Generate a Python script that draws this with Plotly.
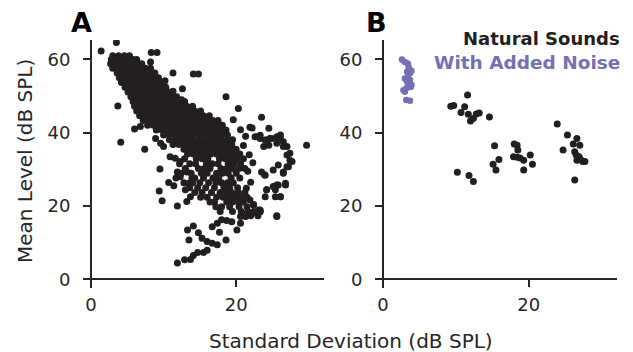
import plotly.graph_objects as go

# ---------------- Data ----------------
# Panel A: natural sounds, dense cloud given as rows: (mean level, [standard deviations])
cloud_rows_a = [
    (61.0, [3.0, 3.8, 4.6, 5.3]),
    (60.0, [2.8, 3.5, 4.2, 5.0, 5.8, 6.3]),
    (58.8, [2.7, 3.3, 4.0, 4.8, 5.6, 6.4, 7.0]),
    (57.6, [3.0, 3.7, 4.4, 5.2, 6.0, 6.8, 7.5, 8.2]),
    (56.3, [3.6, 4.3, 5.1, 5.9, 6.7, 7.4, 8.1, 8.8]),
    (55.0, [3.9, 4.6, 5.4, 6.2, 7.0, 7.8, 8.6, 9.3]),
    (53.7, [4.2, 5.0, 5.8, 6.6, 7.4, 8.2, 9.0, 9.7]),
    (52.4, [4.7, 5.5, 6.3, 7.1, 7.9, 8.7, 9.5, 10.3]),
    (51.1, [5.1, 5.9, 6.7, 7.5, 8.3, 9.1, 9.9, 10.7]),
    (49.8, [5.5, 6.3, 7.1, 7.9, 8.7, 9.5, 10.3, 11.1, 11.8]),
    (48.5, [5.8, 6.6, 7.4, 8.2, 9.0, 9.8, 10.6, 11.4, 12.2, 12.9]),
    (47.2, [6.0, 6.8, 7.6, 8.4, 9.2, 10.0, 10.8, 11.6, 12.4, 13.2, 14.0]),
    (45.9, [6.3, 7.1, 7.9, 8.7, 9.5, 10.3, 11.1, 11.9, 12.7, 13.5, 14.3, 15.1]),
    (44.6, [6.7, 7.5, 8.3, 9.1, 9.9, 10.7, 11.5, 12.3, 13.1, 13.9, 14.7, 15.5, 16.3]),
    (43.3, [7.2, 8.0, 8.8, 9.6, 10.4, 11.2, 12.0, 12.8, 13.6, 14.4, 15.2, 16.0, 16.8, 17.5]),
    (42.0, [7.8, 8.6, 9.4, 10.2, 11.0, 11.8, 12.6, 13.4, 14.2, 15.0, 15.8, 16.6, 17.4, 18.1]),
    (40.7, [9.0, 9.8, 10.6, 11.4, 12.2, 13.0, 13.8, 14.6, 15.4, 16.2, 17.0, 17.8, 18.6]),
    (39.4, [10.0, 10.8, 11.6, 12.4, 13.2, 14.0, 14.8, 15.6, 16.4, 17.2, 18.0, 18.8]),
    (38.1, [10.8, 11.6, 12.4, 13.2, 14.0, 14.8, 15.6, 16.4, 17.2, 18.0, 18.8, 19.5]),
    (36.8, [11.3, 12.1, 13.0, 13.8, 14.6, 15.4, 16.2, 17.0, 17.8, 18.6, 19.4]),
    (35.5, [12.8, 13.6, 14.4, 15.2, 16.0, 16.8, 17.6, 18.4, 19.2, 20.0]),
    (34.2, [13.3, 14.1, 14.9, 15.7, 16.5, 17.3, 18.1, 18.9, 19.7, 20.5]),
    (32.9, [12.9, 14.5, 15.3, 16.1, 17.7, 18.5, 19.3, 20.1, 21.0]),
    (31.5, [12.2, 13.6, 14.4, 15.9, 16.7, 17.5, 18.9, 19.7, 20.6]),
    (30.2, [13.0, 14.8, 15.6, 16.4, 17.9, 18.7, 19.5, 20.4, 21.2]),
    (28.9, [12.4, 13.8, 15.2, 16.0, 17.3, 18.1, 18.9, 20.0]),
    (27.6, [11.7, 14.3, 15.5, 16.8, 17.6, 19.3, 20.5]),
    (26.3, [12.8, 14.0, 15.0, 16.2, 17.2, 18.0, 18.8, 19.6]),
    (25.0, [13.6, 14.7, 15.8, 17.0, 18.3, 19.1, 20.2]),
    (23.7, [14.3, 15.3, 16.6, 17.8, 18.6, 19.4, 20.3, 21.2]),
    (22.4, [15.1, 16.0, 17.3, 18.2, 19.0, 19.8, 20.6, 21.5]),
    (21.1, [16.4, 17.0, 18.7, 19.5, 20.3, 21.0]),
    (19.8, [17.2, 18.0, 19.1, 20.4]),
    (18.5, [17.8, 19.5, 20.7, 21.6, 22.4, 23.3]),
    (17.3, [21.3, 22.0, 23.0]),
]

# Panel A: isolated points (standard deviation, mean level)
sparse_a = [
    (1.4, 62.3), (3.5, 64.6), (8.3, 61.9), (9.1, 61.9), (14.1, 56.0), (14.8, 56.0),
    (11.3, 56.3), (12.6, 52.0), (18.6, 49.8), (20.3, 46.6), (23.5, 44.2), (29.7, 36.6),
    (3.7, 47.3), (4.1, 37.4), (7.4, 35.5), (21.9, 41.5), (24.5, 41.2), (8.2, 59.3),
    (10.2, 54.2), (11.3, 51.3), (12.5, 49.0), (6.0, 41.0), (6.8, 41.7),
    (8.9, 38.4), (9.6, 37.1), (10.0, 36.2), (10.9, 33.4), (11.6, 33.0), (12.3, 32.1),
    (9.5, 30.1), (10.7, 26.4), (11.4, 25.5), (11.9, 29.3), (12.3, 28.0),
    (13.2, 29.3), (13.9, 27.5), (13.5, 26.2), (13.0, 24.4), (13.7, 22.5), (13.2, 21.2),
    (11.9, 20.0), (9.8, 21.4), (9.4, 24.1),
    (11.9, 4.4), (12.9, 5.3), (13.7, 5.4), (14.1, 6.5), (14.7, 7.3),
    (13.3, 13.4), (14.1, 14.5), (13.5, 10.7),
    (14.8, 12.7), (15.3, 11.2), (16.0, 10.3), (16.7, 9.8), (17.4, 9.4),
    (15.5, 7.3), (16.0, 7.9), (17.7, 12.8), (18.6, 10.7),
    (16.7, 14.3), (17.4, 15.3), (18.0, 16.2), (18.7, 16.0), (19.4, 15.7),
    (20.1, 13.4), (20.6, 15.3), (21.3, 17.1), (22.2, 18.0), (23.3, 18.4), (25.6, 17.3),
    (22.6, 38.9), (23.3, 38.4), (24.2, 38.0), (24.9, 38.4), (26.1, 39.4), (26.5, 37.5),
    (25.6, 37.1), (27.0, 36.2), (27.4, 34.4), (27.7, 32.1), (27.0, 30.7), (26.5, 29.3),
    (24.0, 28.4), (23.5, 29.3), (25.6, 25.7), (25.4, 24.4), (26.1, 22.5), (26.8, 26.2),
    (24.2, 24.4), (24.0, 22.5), (23.3, 18.9), (25.6, 17.1),
    (21.9, 21.6), (22.4, 20.3), (21.5, 19.8), (20.6, 17.1), (21.0, 17.5),
    (22.2, 41.3), (22.9, 38.9), (23.3, 39.3), (24.0, 38.0), (24.5, 36.6), (23.8, 36.2),
    (24.7, 38.5), (25.6, 38.9), (26.1, 38.5), (26.5, 36.2), (27.0, 33.9), (27.4, 32.5),
    (27.2, 30.7), (26.5, 28.9), (25.8, 31.2), (25.1, 29.8), (23.9, 28.5), (24.2, 24.4),
    (25.1, 25.3), (25.8, 25.7), (25.4, 22.5), (26.1, 22.5), (26.8, 25.7),
    (23.1, 18.9), (22.4, 20.3), (19.6, 43.5), (20.6, 40.8), (21.3, 39.0), (21.0, 36.5),
    (21.8, 34.0), (22.3, 31.8), (21.6, 29.5), (22.0, 26.5), (21.4, 24.8),
]

# Panel B: natural sounds (standard deviation, mean level)
sd_b = [9.3, 9.7, 11.6, 11.2, 10.7, 11.7, 12.0, 12.4, 12.8, 13.2, 14.6, 10.2, 11.8, 12.4,
        15.3, 15.9, 15.1, 15.5, 18.0, 18.4, 18.5, 17.9, 18.4, 18.8, 19.3, 20.2, 20.5, 19.3,
        23.9, 25.3, 24.7, 26.6, 26.1, 27.0, 26.3, 26.5, 26.9, 27.1, 27.4, 27.7, 26.6, 26.3]
mean_b = [47.2, 47.4, 50.3, 47.1, 45.5, 45.0, 43.2, 43.9, 45.1, 45.4, 44.3, 29.2, 28.3, 26.7,
          36.4, 32.7, 31.4, 29.8, 36.9, 36.6, 35.3, 33.4, 33.3, 33.1, 32.5, 33.9, 31.4, 29.8,
          42.4, 39.4, 35.3, 38.4, 36.9, 36.6, 34.8, 33.9, 33.4, 32.7, 32.1, 32.1, 32.5, 27.1]

# Panel B: with added noise
sd_noise = [2.6, 3.0, 3.4, 3.5, 3.6, 3.9, 3.3, 3.7, 3.4, 3.0, 3.7, 3.3, 3.5, 3.9, 3.8,
            3.2, 2.8, 3.0, 3.2, 3.7]
mean_noise = [60.0, 59.3, 58.9, 58.0, 57.3, 56.9, 56.6, 56.2, 55.3, 54.8, 54.4, 53.9, 53.4,
              53.0, 52.5, 52.1, 51.6, 51.2, 48.9, 48.7]

x_ticks = [0, 20]
y_ticks = [0, 20, 40, 60]
panel_labels = ["A", "B"]
legend_labels = ["Natural Sounds", "With Added Noise"]
x_title = "Standard Deviation (dB SPL)"
y_title = "Mean Level (dB SPL)"

# ---------------- Build ----------------
sd_a, mean_a = [], []
for yv, xs in cloud_rows_a:
    for xv in xs:
        sd_a.append(xv)
        mean_a.append(yv)
for xv, yv in sparse_a:
    sd_a.append(xv)
    mean_a.append(yv)

BLACK = "#231f20"
PURPLE = "#7570b3"
TXT = "#262626"
FONT = "DejaVu Sans"

fig = go.Figure()
fig.add_trace(go.Scatter(x=sd_a, y=mean_a, mode="markers", xaxis="x", yaxis="y",
                         marker=dict(color=BLACK, size=7, line=dict(width=0)),
                         showlegend=False))
fig.add_trace(go.Scatter(x=sd_b, y=mean_b, mode="markers", xaxis="x2", yaxis="y2",
                         marker=dict(color=BLACK, size=7, line=dict(width=0)),
                         showlegend=False))
fig.add_trace(go.Scatter(x=sd_noise, y=mean_noise, mode="markers", xaxis="x2", yaxis="y2",
                         marker=dict(color=PURPLE, size=6.5, line=dict(width=0)),
                         showlegend=False))

XR = [-1.1, 32.1]
YR = [-2.4, 65.3]
dA = [0.0, 0.4513]
dB = [0.5468, 1.0]
xpos = (0 - YR[0]) / (YR[1] - YR[0])
yposA = dA[0] + (0 - XR[0]) / (XR[1] - XR[0]) * (dA[1] - dA[0])
yposB = dB[0] + (0 - XR[0]) / (XR[1] - XR[0]) * (dB[1] - dB[0])

axis_common = dict(showgrid=False, zeroline=False, showline=True, linecolor=TXT,
                   linewidth=2, ticks="outside", ticklen=7, tickwidth=2, tickcolor=TXT,
                   tickfont=dict(family=FONT, size=18, color=TXT))

fig.update_layout(
    width=633, height=352,
    margin=dict(l=83, r=16, t=40, b=64),
    plot_bgcolor="white", paper_bgcolor="white",
    xaxis=dict(domain=dA, range=XR, anchor="free", position=xpos,
               tickvals=x_ticks, ticklabelstandoff=2, **axis_common),
    yaxis=dict(domain=[0, 1], range=YR, anchor="free", position=yposA,
               tickvals=y_ticks, ticklabelstandoff=9, **axis_common),
    xaxis2=dict(domain=dB, range=XR, anchor="free", position=xpos,
                tickvals=x_ticks, ticklabelstandoff=2, **axis_common),
    yaxis2=dict(domain=[0, 1], range=YR, anchor="free", position=yposB,
                tickvals=y_ticks, ticklabelstandoff=9, **axis_common),
)

W = 633 - 83 - 16
H = 352 - 40 - 64


def px(xp):
    return (xp - 83) / W


def py(yp):
    return (352 - 64 - yp) / H


anns = [
    dict(text=f"<b>{panel_labels[0]}</b>", x=px(81.5), y=py(22), xanchor="center", yanchor="middle",
         font=dict(family=FONT, size=27, color="black")),
    dict(text=f"<b>{panel_labels[1]}</b>", x=px(376.5), y=py(22), xanchor="center", yanchor="middle",
         font=dict(family=FONT, size=27, color="black")),
    dict(text=f"<b>{legend_labels[0]}</b>", x=px(622), y=py(38.5), xanchor="right", yanchor="middle",
         font=dict(family=FONT, size=18, color=BLACK)),
    dict(text=f"<b>{legend_labels[1]}</b>", x=px(622), y=py(62), xanchor="right", yanchor="middle",
         font=dict(family=FONT, size=18.5, color=PURPLE)),
    dict(text=y_title, x=px(25), y=py(161), xanchor="center", yanchor="middle", textangle=-90,
         font=dict(family=FONT, size=20, color=TXT)),
    dict(text=x_title, x=px(351), y=py(341), xanchor="center", yanchor="middle",
         font=dict(family=FONT, size=20, color=TXT)),
]
for a in anns:
    a.update(xref="paper", yref="paper", showarrow=False)
fig.update_layout(annotations=anns)

fig.write_html("out.html")
